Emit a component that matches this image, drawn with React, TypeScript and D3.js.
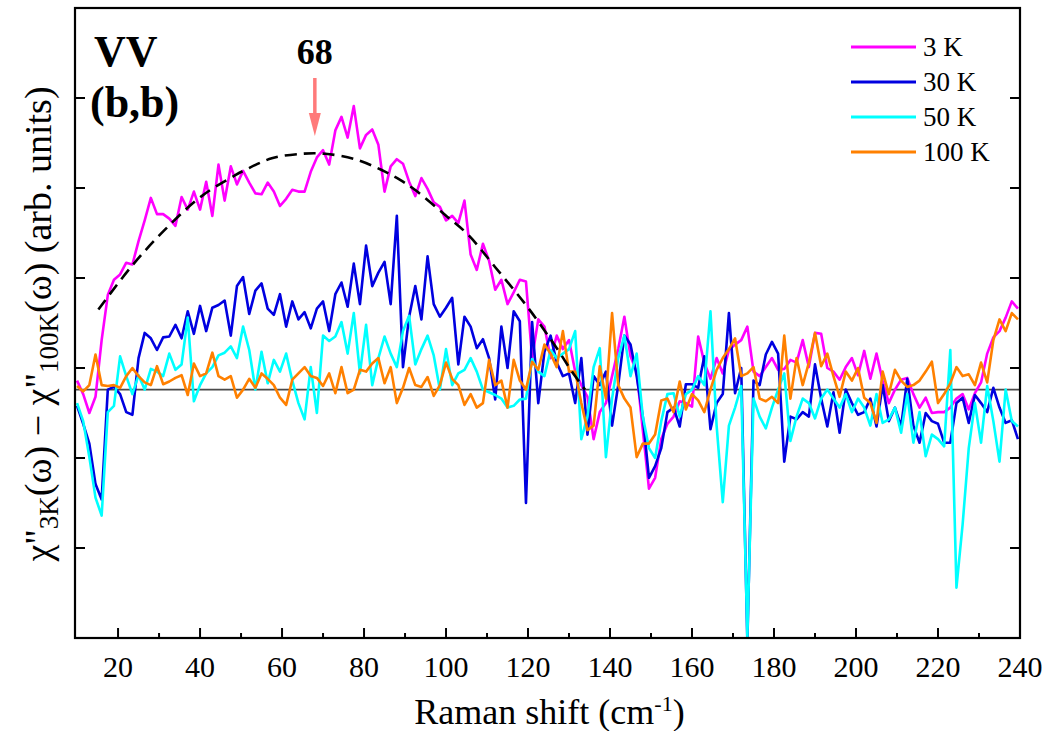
import React from "react";
import * as d3 from "d3";

// Raman shift grid (cm^-1)
const shift: number[] = d3.range(10, 240, 1.5);

const seriesNames = ["3 K", "30 K", "50 K", "100 K"];
const seriesColors = ["#ff00ff", "#0000e0", "#00ffff", "#ff8000"];

const chi3K = [
  1.0, -0.5, -2.6, -0.8, 5.5, 10.5, 12.2, 12.8, 14.1, 13.9,
  16.5, 18.8, 21.3, 19.5, 19.5, 19.0, 18.2, 21.4, 20.0, 22.0,
  20.0, 23.1, 19.3, 25.0, 21.0, 24.8, 22.8, 24.3, 23.0, 21.8,
  21.7, 23.0, 22.0, 20.4, 21.2, 22.2, 22.0, 22.0, 24.2, 25.8,
  26.6, 25.0, 28.8, 30.3, 28.0, 31.5, 26.8, 28.3, 28.9, 27.2,
  22.0, 24.8, 25.6, 25.1, 23.1, 21.5, 23.5, 22.3, 20.8, 20.3,
  18.8, 19.3, 18.5, 21.0, 15.0, 13.3, 16.2, 14.3, 11.1, 12.2,
  9.5, 10.8, 12.2, 12.0, 3.5, 7.8, 7.0, 3.5, 6.0, 4.5,
  5.5, 2.0, 0.5, -0.8, -5.5, -2.5, -1.5, 1.5, 4.5, 8.1,
  3.7, 2.0, -4.5, -11.0, -9.8, -5.5, -3.8, -3.0, -1.3, -1.5,
  -1.9, 5.9, 3.0, 1.2, 3.5, 1.8, 4.4, 5.0, 5.5, 7.0,
  2.0, 1.5, 2.5, 3.5, 2.2, 2.3, 3.3, 3.0, 5.5, 2.5,
  6.3, 6.2, 2.4, 2.0, 1.1, 2.5, 3.5, 1.6, 4.3, 1.2,
  4.0, 1.0, -1.5, 0.0, 1.1, 1.3, -0.5, -2.0, -0.9, -2.6,
  -2.5, -2.5, -2.0, -1.0, -0.5, -2.2, -0.4, 0.8, 4.0, 5.8,
  6.5, 8.0, 9.8, 9.0,
];

const chi30K = [
  -1.8, -3.8, -6.0, -10.5, -12.2, 0.0, 0.3, -0.5, -2.5, -2.8,
  3.5, 6.3, 5.7, 4.4, 5.8, 5.9, 7.2, 5.7, 8.7, 6.2,
  9.3, 6.5, 9.1, 9.4, 9.9, 6.0, 11.5, 12.5, 8.4, 11.0,
  11.8, 9.0, 8.3, 10.6, 7.0, 9.8, 7.8, 8.6, 6.8, 9.0,
  9.8, 6.5, 10.6, 11.9, 9.2, 14.0, 9.5, 16.0, 11.5, 13.0,
  14.2, 9.5, 19.3, 2.5, 8.1, 11.5, 7.8, 14.8, 9.5, 8.1,
  9.1, 10.2, 2.8, 8.1, 7.0, 4.6, 5.6, 3.5, -1.1, 7.0,
  2.4, 8.7, 7.6, -12.6, 7.5, -1.5, 4.2, 6.0, 3.0, 1.5,
  1.8, -1.5, 3.5, -5.0, 1.5, 0.5, 2.0, -4.0, 0.5, 6.0,
  5.0, 1.5, -3.0, -9.8, -8.5, -6.5, -2.5, -2.0, -4.1, 0.6,
  0.6, 0.2, 3.7, -4.4, -1.5, -0.5, 8.5, -0.4, 2.4, -28.0,
  1.0, 0.5, 3.9, 5.3, 4.0, -8.0, -3.0, -3.3, -2.5, -3.0,
  2.8, -1.0, -4.1, -0.3, -4.8, 0.0, -1.5, -2.8, -2.5, -1.0,
  -4.1, 0.5, -3.5, -2.0, -4.1, 1.2, -4.0, -5.9, -2.6, -3.5,
  -3.8, -5.9, -5.9, -1.5, -0.9, -3.7, -0.6, -1.5, -2.5, 0.2,
  -2.0, -3.7, -3.4, -5.5,
];

const chi50K = [
  -1.5, -3.5, -7.5, -12.0, -14.0, -2.5, -1.8, 3.7, 1.5, -0.5,
  1.6, 0.0, 2.3, 2.0, 1.5, 4.0, 2.2, 2.8, 8.0, -1.3,
  0.5, 1.8, 2.5, 3.8, 4.1, 4.8, 3.5, 7.0, 4.4, 0.0,
  4.2, 0.7, 3.3, 2.0, 4.0, 1.0, -1.5, -3.3, 2.5, -2.6,
  6.0, 5.4, 5.9, 7.5, 4.0, 8.5, 1.8, 7.2, 0.5, 3.5,
  5.9, 4.0, 2.5, 6.5, 8.2, 2.8, 4.5, 6.0, 3.8, 0.0,
  4.5, 0.5, 1.8, 2.2, 3.5, 2.0, 0.0, -0.3, -0.6, -1.0,
  -2.0, -1.8, -1.1, -1.0, 3.4, 2.0, 1.5, 4.4, 3.5, 4.0,
  4.5, 6.5, -5.5, -3.0, 2.5, 4.6, -7.5, -1.0, 3.5, 6.0,
  1.5, 4.0, -3.0, -6.5, -7.6, -3.5, -0.5, -0.4, -3.0, -0.5,
  0.0, 1.5, 0.5, 8.7, -4.0, -12.5, -4.0, -2.0, 0.4, -27.5,
  -1.0, -3.0, -4.3, -2.0, 0.0, 1.8, -5.7, -3.0, -1.0, -1.5,
  -3.2, -1.0, 0.0, -1.0, -2.0, -0.5, -2.5, -1.0, -2.0, -4.0,
  -0.5, -3.7, -3.3, -2.0, -4.8, -0.5, -5.9, -2.5, -7.4, -5.0,
  -5.5, -6.3, 4.4, -22.0, -15.0, -6.5, -1.5, -5.9, 0.4, -3.5,
  -8.0, 0.0, -3.5, -4.1,
];

const chi100K = [
  0.4, -0.2, 0.5, 3.9, 0.5, 0.4, 0.5, 0.2, 1.5, 2.4,
  1.5, 0.8, 0.5, 2.6, 0.6, 0.9, 1.3, 1.6, -0.6, 2.9,
  1.5, 1.8, 4.1, 1.5, 1.1, 1.5, -0.9, 0.0, 1.2, 0.2,
  1.8, 1.2, 0.5, -0.9, -1.7, 1.1, 1.8, 2.5, 1.5, 1.3,
  0.4, 1.8, -0.4, 2.5, -0.4, 0.0, 2.2, 2.0, 2.9, 3.5,
  0.7, 2.5, -1.5, 0.2, 2.4, 0.5, 0.3, 1.4, -0.7, 0.5,
  3.0, 1.2, 0.5, -1.7, -0.5, -2.0, -1.5, 3.3, 0.5, 1.0,
  -2.0, 3.3, 1.0, 0.0, 3.1, 2.2, 5.0, 4.0, 2.5, 6.5,
  2.0, 2.0, -1.5, -4.5, -4.0, 2.6, -1.0, 8.5, 0.5, -1.0,
  -2.0, -7.5, -6.0, -6.0, -5.0, -1.2, -1.0, -2.5, 0.9, -2.2,
  -0.5, -1.2, -2.5, 0.0, 2.2, 3.5, 4.5, 5.7, 1.5, 1.8,
  2.5, -1.0, -1.3, -0.8, -1.5, 6.0, -1.0, 3.5, 0.5, 3.0,
  6.3, 2.6, 4.0, 1.5, -0.8, 2.0, 1.0, 2.4, -0.9, -1.5,
  -3.7, 2.0, -0.5, 2.2, 1.0, 0.3, 0.5, 1.0, 2.0, 3.1,
  -1.5, -0.5, 0.7, 2.5, 1.5, 1.7, 0.5, 3.0, 0.8, 5.5,
  7.8, 6.5, 8.5, 7.8,
];

const seriesValues = [chi3K, chi30K, chi50K, chi100K];

// dashed guide curve
const fitShift = [15.2, 23.3, 31.5, 40.4, 48.5, 51.0, 57.5, 64.8, 70.5, 77.8, 84.3, 88.8, 92.4, 99.8, 105.4, 112.0, 120.0, 127.3, 130.7, 133.9];
const fitValue = [8.9, 13.7, 17.8, 21.5, 23.8, 24.4, 25.7, 26.2, 26.2, 25.6, 24.4, 23.3, 22.2, 19.4, 17.2, 13.6, 9.1, 4.4, 2.0, 0.0];

const xTickValues = [20, 40, 60, 80, 100, 120, 140, 160, 180, 200, 220, 240];
const xMinorValues = [30, 50, 70, 90, 110, 130, 150, 170, 190, 210, 230];
const yTickValues = [-17.6, -7.6, 2.4, 12.4, 22.4, 32.4];

const peakPos = 68;

const W = 1051, H = 731;
const M = { left: 75, right: 1020, top: 8, bottom: 638 };
const FONT = "'Liberation Serif', 'Times New Roman', serif";

export default function App() {
  const x = d3.scaleLinear().domain([9.5, 240]).range([M.left, M.right]);
  const y = d3.scaleLinear().domain([-27.6, 42.4]).range([M.bottom, M.top]);

  const line = d3
    .line<[number, number]>()
    .x((d) => x(d[0]))
    .y((d) => y(d[1]));

  const fitLine = d3
    .line<[number, number]>()
    .x((d) => x(d[0]))
    .y((d) => y(d[1]))
    .curve(d3.curveCatmullRom.alpha(0.5));

  const seriesPaths = seriesValues.map((vals) => {
    const n = Math.min(vals.length, shift.length);
    const pts: [number, number][] = [];
    for (let i = 0; i < n; i++) pts.push([shift[i], vals[i]]);
    return line(pts) || "";
  });

  const fitPts: [number, number][] = fitShift.map((s, i) => [s, fitValue[i]]);
  const legendY = [47, 82, 117, 152];
  const ax = x(peakPos);

  return (
    <svg
      width={W}
      height={H}
      style={{ position: "absolute", left: 0, top: 0, background: "#fff" }}
      fontFamily={FONT}
    >
      <defs>
        <clipPath id="plotClip">
          <rect x={M.left} y={M.top} width={M.right - M.left} height={M.bottom - M.top} />
        </clipPath>
      </defs>

      {/* zero reference line */}
      <line x1={M.left} x2={M.right} y1={y(0)} y2={y(0)} stroke="#4a4a4a" strokeWidth={1.6} />

      <g clipPath="url(#plotClip)">
        {seriesPaths.map((p, i) => (
          <path key={i} d={p} fill="none" stroke={seriesColors[i]} strokeWidth={2.6} strokeLinejoin="round" />
        ))}
        <path d={fitLine(fitPts) || ""} fill="none" stroke="#000" strokeWidth={2.6} strokeDasharray="12 7" />
      </g>

      {/* frame */}
      <rect x={M.left} y={M.top} width={M.right - M.left} height={M.bottom - M.top} fill="none" stroke="#000" strokeWidth={2.2} />

      {/* x ticks */}
      {xTickValues.map((t) => (
        <g key={"xt" + t}>
          <line x1={x(t)} x2={x(t)} y1={M.bottom} y2={M.bottom - 10} stroke="#000" strokeWidth={2} />
          <text x={x(t)} y={677} textAnchor="middle" fontSize={30}>{t}</text>
        </g>
      ))}
      {xMinorValues.map((t) => (
        <line key={"xm" + t} x1={x(t)} x2={x(t)} y1={M.bottom} y2={M.bottom - 5} stroke="#000" strokeWidth={2} />
      ))}
      {/* y ticks both sides */}
      {yTickValues.map((t) => (
        <g key={"yt" + t}>
          <line x1={M.left} x2={M.left + 10} y1={y(t)} y2={y(t)} stroke="#000" strokeWidth={2} />
          <line x1={M.right} x2={M.right - 10} y1={y(t)} y2={y(t)} stroke="#000" strokeWidth={2} />
        </g>
      ))}

      {/* axis titles */}
      <text x={(M.left + M.right) / 2 + 2} y={724} textAnchor="middle" fontSize={36}>
        Raman shift (cm<tspan dy={-13} fontSize={22}>-1</tspan><tspan dy={13}>)</tspan>
      </text>
      <text transform={`translate(51, ${324}) rotate(-90)`} textAnchor="middle" fontSize={38}>
        χ"<tspan fontSize={27} dy={7}>3K</tspan>
        <tspan dy={-7}>(ω) − χ"</tspan>
        <tspan fontSize={27} dy={7}>100K</tspan>
        <tspan dy={-7}>(ω) (arb. units)</tspan>
      </text>

      {/* annotations */}
      <text x={94} y={66} fontSize={44} fontWeight="bold">VV</text>
      <text x={90} y={117} fontSize={44} fontWeight="bold">(b,b)</text>
      <text x={ax} y={64} fontSize={36} fontWeight="bold" textAnchor="middle">68</text>
      <g opacity={0.8}>
        <line x1={ax} x2={ax} y1={78} y2={122} stroke="#ff5a5a" strokeWidth={3.5} />
        <polygon points={`${ax - 6},${113} ${ax + 6},${113} ${ax},${136}`} fill="#ff5a5a" />
      </g>

      {/* legend */}
      {seriesNames.map((n, i) => (
        <g key={n}>
          <line x1={851} x2={916} y1={legendY[i]} y2={legendY[i]} stroke={seriesColors[i]} strokeWidth={3} />
          <text x={923} y={legendY[i] + 9} fontSize={27}>{n}</text>
        </g>
      ))}
    </svg>
  );
}
